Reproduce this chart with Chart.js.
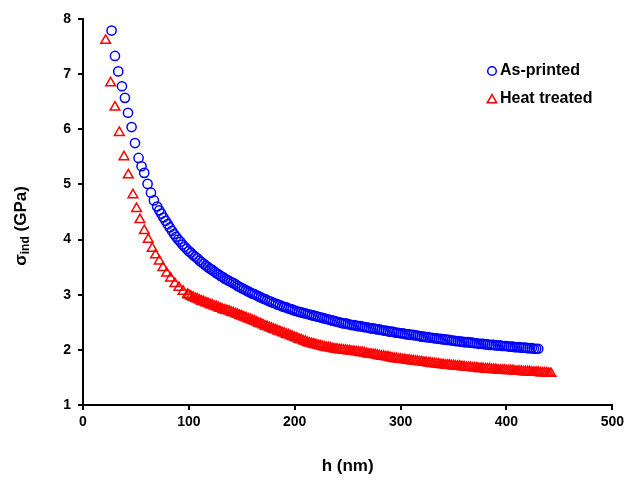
<!DOCTYPE html>
<html>
<head>
<meta charset="utf-8">
<script src="https://cdn.jsdelivr.net/npm/chart.js@4/dist/chart.umd.min.js"></script>
<style>
    html, body { margin: 0; padding: 0; background: #fff; }
    #wrap { width: 628px; height: 480px; }
</style>
</head>
<body>
<div id="wrap"><canvas id="sigma-chart" width="628" height="480"></canvas></div>
<script>
// データ
const seriesLabels = ['As-printed', 'Heat treated'];

const asPrintedH = [
    27, 30.2, 33.3, 36.8, 39.6, 42.5, 45.9, 49.1, 52.5, 55.3, 57.8, 61, 64.2, 67,
    70, 72, 74, 76, 78, 80, 82, 84, 86, 88, 90, 92, 94, 96, 98,
    100, 102, 104, 106, 108, 110, 112, 114, 116, 118, 120, 122, 124, 126, 128,
    130, 132, 134, 136, 138, 140, 142, 144, 146, 148, 150, 152, 154, 156, 158,
    160, 162, 164, 166, 168, 170, 172, 174, 176, 178, 180, 182, 184, 186, 188,
    190, 192, 194, 196, 198, 200, 202, 204, 206, 208, 210, 212, 214, 216, 218,
    220, 222, 224, 226, 228, 230, 232, 234, 236, 238, 240, 242, 244, 246, 248,
    250, 252, 254, 256, 258, 260, 262, 264, 266, 268, 270, 272, 274, 276, 278,
    280, 282, 284, 286, 288, 290, 292, 294, 296, 298, 300, 302, 304, 306, 308,
    310, 312, 314, 316, 318, 320, 322, 324, 326, 328, 330, 332, 334, 336, 338,
    340, 342, 344, 346, 348, 350, 352, 354, 356, 358, 360, 362, 364, 366, 368,
    370, 372, 374, 376, 378, 380, 382, 384, 386, 388, 390, 392, 394, 396, 398,
    400, 402, 404, 406, 408, 410, 412, 414, 416, 418, 420, 422, 424, 426, 428, 430
];
const asPrintedSigma = [
    7.79, 7.33, 7.05, 6.78, 6.57, 6.30, 6.04, 5.75, 5.48, 5.33, 5.21, 5.01, 4.85, 4.71,
    4.60, 4.53, 4.47, 4.40, 4.34, 4.28, 4.22, 4.16, 4.10, 4.05, 4.00, 3.96, 3.91, 3.87, 3.83,
    3.79, 3.76, 3.72, 3.69, 3.66, 3.62, 3.59, 3.56, 3.53, 3.50, 3.47, 3.45, 3.42, 3.39, 3.37,
    3.34, 3.32, 3.29, 3.27, 3.25, 3.23, 3.21, 3.19, 3.16, 3.14, 3.12, 3.10, 3.08, 3.06, 3.04,
    3.02, 3.01, 2.99, 2.97, 2.95, 2.93, 2.92, 2.90, 2.88, 2.87, 2.85, 2.84, 2.82, 2.81, 2.79,
    2.78, 2.77, 2.75, 2.74, 2.73, 2.71, 2.70, 2.69, 2.68, 2.67, 2.66, 2.65, 2.64, 2.63, 2.62,
    2.61, 2.60, 2.59, 2.58, 2.57, 2.56, 2.55, 2.54, 2.53, 2.52, 2.51, 2.50, 2.49, 2.48, 2.48,
    2.47, 2.46, 2.45, 2.45, 2.44, 2.43, 2.43, 2.42, 2.41, 2.41, 2.40, 2.39, 2.39, 2.38, 2.37,
    2.37, 2.36, 2.35, 2.35, 2.34, 2.33, 2.33, 2.32, 2.31, 2.31, 2.30, 2.30, 2.29, 2.28, 2.28,
    2.27, 2.27, 2.26, 2.26, 2.25, 2.24, 2.24, 2.23, 2.23, 2.22, 2.22, 2.21, 2.21, 2.20, 2.20,
    2.19, 2.19, 2.18, 2.18, 2.17, 2.17, 2.16, 2.16, 2.15, 2.15, 2.14, 2.14, 2.14, 2.13, 2.13,
    2.12, 2.12, 2.11, 2.11, 2.11, 2.10, 2.10, 2.09, 2.09, 2.09, 2.08, 2.08, 2.08, 2.07, 2.07,
    2.07, 2.06, 2.06, 2.06, 2.05, 2.05, 2.05, 2.04, 2.04, 2.04, 2.03, 2.03, 2.03, 2.02, 2.02, 2.02
];

const heatTreatedH = [
    21.4, 26.1, 30.2, 34.3, 38.7, 42.8, 47.2, 50.6, 53.8, 57.9, 61.6, 65.4, 68.5, 72, 75.5, 79,
    82.7, 86.8, 90.6, 94.6, 98.7,
    100, 102, 104, 106, 108, 110, 112, 114, 116, 118, 120, 122, 124, 126, 128,
    130, 132, 134, 136, 138, 140, 142, 144, 146, 148, 150, 152, 154, 156, 158,
    160, 162, 164, 166, 168, 170, 172, 174, 176, 178, 180, 182, 184, 186, 188,
    190, 192, 194, 196, 198, 200, 202, 204, 206, 208, 210, 212, 214, 216, 218,
    220, 222, 224, 226, 228, 230, 232, 234, 236, 238, 240, 242, 244, 246, 248,
    250, 252, 254, 256, 258, 260, 262, 264, 266, 268, 270, 272, 274, 276, 278,
    280, 282, 284, 286, 288, 290, 292, 294, 296, 298, 300, 302, 304, 306, 308,
    310, 312, 314, 316, 318, 320, 322, 324, 326, 328, 330, 332, 334, 336, 338,
    340, 342, 344, 346, 348, 350, 352, 354, 356, 358, 360, 362, 364, 366, 368,
    370, 372, 374, 376, 378, 380, 382, 384, 386, 388, 390, 392, 394, 396, 398,
    400, 402, 404, 406, 408, 410, 412, 414, 416, 418, 420, 422, 424, 426, 428,
    430, 432, 434, 436, 438, 440, 442
];
const heatTreatedSigma = [
    7.61, 6.84, 6.40, 5.94, 5.50, 5.17, 4.81, 4.56, 4.36, 4.16, 4.00, 3.84, 3.72, 3.61, 3.49, 3.39,
    3.30, 3.20, 3.13, 3.06, 3.00,
    2.99, 2.97, 2.95, 2.93, 2.92, 2.90, 2.88, 2.87, 2.85, 2.84, 2.82, 2.81, 2.79, 2.78, 2.76,
    2.75, 2.73, 2.72, 2.71, 2.70, 2.68, 2.67, 2.65, 2.64, 2.62, 2.61, 2.59, 2.58, 2.56, 2.55,
    2.53, 2.52, 2.50, 2.48, 2.47, 2.45, 2.43, 2.42, 2.40, 2.39, 2.37, 2.36, 2.34, 2.33, 2.31,
    2.30, 2.28, 2.27, 2.25, 2.24, 2.22, 2.21, 2.19, 2.18, 2.16, 2.15, 2.13, 2.12, 2.11, 2.10,
    2.09, 2.08, 2.07, 2.06, 2.05, 2.04, 2.04, 2.03, 2.02, 2.01, 2.01, 2.00, 2.00, 1.99, 1.99,
    1.98, 1.98, 1.97, 1.97, 1.96, 1.96, 1.95, 1.95, 1.94, 1.93, 1.92, 1.92, 1.91, 1.91, 1.90,
    1.89, 1.88, 1.88, 1.87, 1.87, 1.86, 1.85, 1.84, 1.84, 1.83, 1.83, 1.82, 1.82, 1.81, 1.81,
    1.80, 1.80, 1.79, 1.79, 1.78, 1.78, 1.77, 1.77, 1.76, 1.76, 1.75, 1.75, 1.74, 1.74, 1.73,
    1.73, 1.72, 1.72, 1.72, 1.71, 1.71, 1.70, 1.70, 1.70, 1.69, 1.69, 1.68, 1.68, 1.68, 1.67,
    1.67, 1.67, 1.66, 1.66, 1.66, 1.65, 1.65, 1.65, 1.64, 1.64, 1.64, 1.63, 1.63, 1.63, 1.63,
    1.62, 1.62, 1.62, 1.62, 1.61, 1.61, 1.61, 1.61, 1.60, 1.60, 1.60, 1.60, 1.59, 1.59, 1.59,
    1.59, 1.58, 1.58, 1.58, 1.58, 1.57, 1.57
];

const xRange = [0, 500];
const yRange = [1, 8];

const FONT = '"Liberation Sans", Arial, sans-serif';

// 系列の組み立て
function toPoints(xs, ys) {
    return xs.map((x, i) => ({ x: x, y: ys[i] }));
}

// 縦軸タイトル (下付き文字のため自前で描画)
const yTitlePlugin = {
    id: 'yTitle',
    afterDraw(chart) {
        const { ctx, chartArea } = chart;
        const mid = (chartArea.top + chartArea.bottom) / 2 + 14;
        const big = `bold 17px ${FONT}`;
        const small = `bold 12px ${FONT}`;

        ctx.save();
        ctx.translate(21, mid);
        ctx.rotate(-Math.PI / 2);
        ctx.fillStyle = '#000';
        ctx.textBaseline = 'middle';
        ctx.textAlign = 'left';

        ctx.font = big;
        const w1 = ctx.measureText('σ').width;
        const w3 = ctx.measureText(' (GPa)').width;
        ctx.font = small;
        const w2 = ctx.measureText('ind').width;

        let x = -(w1 + w2 + w3) / 2;
        ctx.font = big;
        ctx.fillText('σ', x, 0);
        x += w1;
        ctx.font = small;
        ctx.fillText('ind', x, 5);
        x += w2;
        ctx.font = big;
        ctx.fillText(' (GPa)', x, 0);
        ctx.restore();
    }
};

// 凡例 (プロット領域の右上)
const insideLegendPlugin = {
    id: 'insideLegend',
    afterDraw(chart) {
        const { ctx } = chart;
        const items = chart.data.datasets.map((ds, i) => ({
            text: ds.label,
            color: ds.borderColor,
            style: ds.pointStyle,
            y: 71 + i * 28
        }));

        ctx.save();
        items.forEach(item => {
            ctx.strokeStyle = item.color;
            ctx.lineWidth = 1.5;
            ctx.beginPath();
            if (item.style === 'triangle') {
                const r = 5.5;
                for (let k = 0; k < 3; k++) {
                    const a = k * 2 * Math.PI / 3;
                    const px = 492 + Math.sin(a) * r;
                    const py = item.y + 1 - Math.cos(a) * r;
                    if (k === 0) ctx.moveTo(px, py); else ctx.lineTo(px, py);
                }
                ctx.closePath();
            } else {
                ctx.arc(492, item.y, 4.3, 0, Math.PI * 2);
            }
            ctx.stroke();

            ctx.fillStyle = '#000';
            ctx.font = `bold 16px ${FONT}`;
            ctx.textBaseline = 'middle';
            ctx.textAlign = 'left';
            ctx.fillText(item.text, 500, item.y);
        });
        ctx.restore();
    }
};

const ctx = document.getElementById('sigma-chart').getContext('2d');

const chart = new Chart(ctx, {
    type: 'scatter',
    data: {
        datasets: [{
            label: seriesLabels[0],
            data: toPoints(asPrintedH, asPrintedSigma),
            pointStyle: 'circle',
            pointRadius: 4.6,
            borderWidth: 1.5,
            borderColor: '#0000FF',
            backgroundColor: 'rgba(0,0,0,0)'
        }, {
            label: seriesLabels[1],
            data: toPoints(heatTreatedH, heatTreatedSigma),
            pointStyle: 'triangle',
            pointRadius: 5.6,
            borderWidth: 1.5,
            borderColor: '#FF0000',
            backgroundColor: 'rgba(0,0,0,0)'
        }]
    },
    options: {
        responsive: false,
        animation: false,
        layout: {
            padding: { top: 19, right: 15, bottom: 0, left: 0 }
        },
        plugins: {
            legend: { display: false },
            tooltip: { enabled: false }
        },
        scales: {
            x: {
                type: 'linear',
                min: xRange[0],
                max: xRange[1],
                afterFit: (scale) => { scale.height = 75; },
                ticks: {
                    stepSize: 100,
                    color: '#000',
                    padding: 4,
                    font: { family: FONT, size: 14, weight: 'bold' }
                },
                grid: {
                    drawOnChartArea: false,
                    drawTicks: true,
                    tickLength: 5,
                    lineWidth: 2,
                    color: '#000'
                },
                border: { color: '#000', width: 2 },
                title: {
                    display: true,
                    text: 'h (nm)',
                    color: '#000',
                    padding: { top: 0, bottom: 3 },
                    font: { family: FONT, size: 17, weight: 'bold' }
                }
            },
            y: {
                type: 'linear',
                min: yRange[0],
                max: yRange[1],
                afterFit: (scale) => { scale.width = 83; },
                ticks: {
                    stepSize: 1,
                    color: '#000',
                    padding: 7,
                    font: { family: FONT, size: 14, weight: 'bold' }
                },
                grid: {
                    drawOnChartArea: false,
                    drawTicks: true,
                    tickLength: 5,
                    lineWidth: 2,
                    color: '#000'
                },
                border: { color: '#000', width: 2 }
            }
        }
    },
    plugins: [yTitlePlugin, insideLegendPlugin]
});
</script>
</body>
</html>
